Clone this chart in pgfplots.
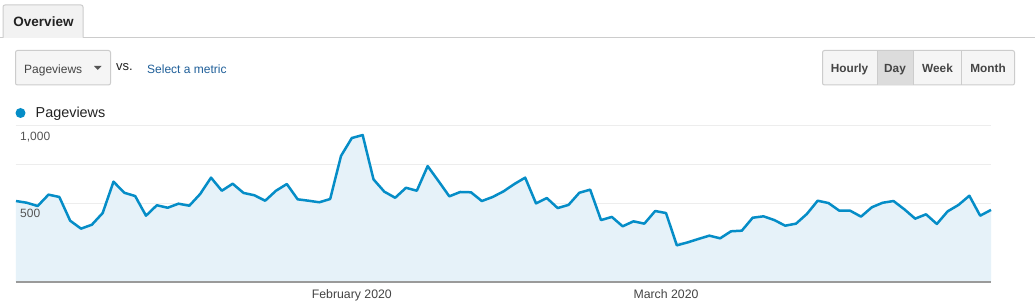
\documentclass[border=0pt]{standalone}
\usepackage{pgfplots}
\pgfplotsset{compat=1.18}
\usepackage{pgfplotstable}
\usepackage{fontspec}
\setmainfont{Liberation Sans}
\definecolor{gablue}{HTML}{058DC7}
\definecolor{gafill}{RGB}{230,242,249}
\definecolor{gridcol}{HTML}{EDEDED}
\definecolor{basecol}{HTML}{9A9A9A}
\definecolor{bordercol}{HTML}{CCCCCC}
\definecolor{tabfill}{HTML}{F2F2F2}
\definecolor{btnfill}{HTML}{F5F5F5}
\definecolor{pressed}{HTML}{DCDCDC}
\definecolor{txtdark}{HTML}{222222}
\definecolor{txtmid}{HTML}{444444}
\definecolor{txtgray}{HTML}{555555}
\definecolor{linkblue}{HTML}{1F5F99}

\pgfplotstableread{
i v
0 519
1 508
2 487
3 560
4 545
5 393
6 342
7 367
8 442
9 643
10 572
11 551
12 425
13 492
14 476
15 502
16 489
17 564
18 669
19 585
20 630
21 571
22 556
23 521
24 585
25 628
26 530
27 521
28 511
29 532
30 808
31 923
32 942
33 658
34 579
35 540
36 604
37 585
38 743
39 647
40 549
41 577
42 575
43 519
44 545
45 581
46 628
47 669
48 504
49 538
50 474
51 494
52 572
53 592
54 397
55 417
56 357
57 389
58 374
59 455
60 442
61 235
62 254
63 276
64 297
65 280
66 325
67 329
68 412
69 421
70 397
71 361
72 374
73 436
74 521
75 506
76 457
77 457
78 419
79 479
80 508
81 519
82 466
83 406
84 434
85 372
86 453
87 494
88 553
89 425
90 462
}\pvdata

\begin{document}
\begin{tikzpicture}[x=1pt,y=1pt]
\useasboundingbox (0,0) rectangle (1035,305);
\fill[white] (0,0) rectangle (1035,305);
% tab
\fill[tabfill, rounded corners=2pt] (3,267) -- (3,300) -- (83,300) -- (83,267) -- cycle;
\draw[bordercol, line width=1pt, rounded corners=2pt] (3,267) -- (3,300) -- (83,300) -- (83,267);
\draw[bordercol, line width=1pt] (0,267) -- (3,267) (83,267) -- (1035,267);
\node[font=\fontsize{13.5}{15}\selectfont\bfseries, text=txtdark, anchor=mid] at (43.5,281) {Overview};
% dropdown
\filldraw[draw=bordercol, fill=btnfill, rounded corners=2pt, line width=1pt] (15.5,220) rectangle (110.5,254.5);
\node[font=\fontsize{12}{14}\selectfont, text=txtmid, anchor=mid west, inner sep=0] at (24,234.5) {Pageviews};
\fill[txtgray] (94,239) -- (101.5,239) -- (97.75,235.2) -- cycle;
\node[font=\fontsize{13}{15}\selectfont, text=txtdark, anchor=mid west, inner sep=0] at (116,237.5) {vs.};
\node[font=\fontsize{12}{14}\selectfont, text=linkblue, anchor=mid west, inner sep=0] at (147,234.5) {Select a metric};
% button group
\filldraw[draw=bordercol, fill=btnfill, rounded corners=2pt, line width=1pt] (822.5,220) rectangle (1014.5,254.5);
\fill[pressed] (877,220.5) rectangle (913,254);
\draw[bordercol, line width=1pt] (877,220) -- (877,254.5) (913,220) -- (913,254.5) (961.5,220) -- (961.5,254.5);
\begin{scope}[every node/.style={font=\fontsize{11.8}{14}\selectfont\bfseries, text=txtmid, anchor=mid}]
\node at (849.5,235) {Hourly};
\node at (895,235) {Day};
\node at (937.5,235) {Week};
\node at (988,235) {Month};
\end{scope}
% legend
\fill[gablue] (20.5,192) circle (5pt);
\node[font=\fontsize{14.4}{16}\selectfont, text=txtdark, anchor=mid west, inner sep=0] at (35.5,190) {Pageviews};
% chart
\begin{axis}[
  at={(16pt,23pt)}, anchor=south west,
  width=975pt, height=156pt, scale only axis,
  xmin=0, xmax=90, ymin=0, ymax=1000,
  axis line style={draw=none},
  ytick={250,500,750,1000}, yticklabels={},
  ymajorgrids, grid style={gridcol, line width=1pt},
  xtick={31,60}, xticklabels={February 2020, March 2020},
  major tick length=0pt,
  xticklabel style={font=\fontsize{12.3}{14}\selectfont, text=txtmid, inner sep=0pt, anchor=north, yshift=-7.5pt},
  clip=false,
]
\addplot[draw=none, fill=gafill] table[x=i, y=v] {\pvdata} \closedcycle;
\addplot[gablue, line width=2.5pt, line join=round, mark=none] table[x=i, y=v] {\pvdata};
\draw[basecol, line width=1.2pt] (axis cs:0,0) -- (axis cs:90,0);
\node[anchor=north west, inner sep=0pt, xshift=4pt, yshift=-5.5pt, font=\fontsize{12}{14}\selectfont, text=txtgray] at (axis cs:0,1000) {1,000};
\node[anchor=north west, inner sep=0pt, xshift=4pt, yshift=-5pt, font=\fontsize{12}{14}\selectfont, text=txtgray] at (axis cs:0,500) {500};
\end{axis}
\end{tikzpicture}
\end{document}
